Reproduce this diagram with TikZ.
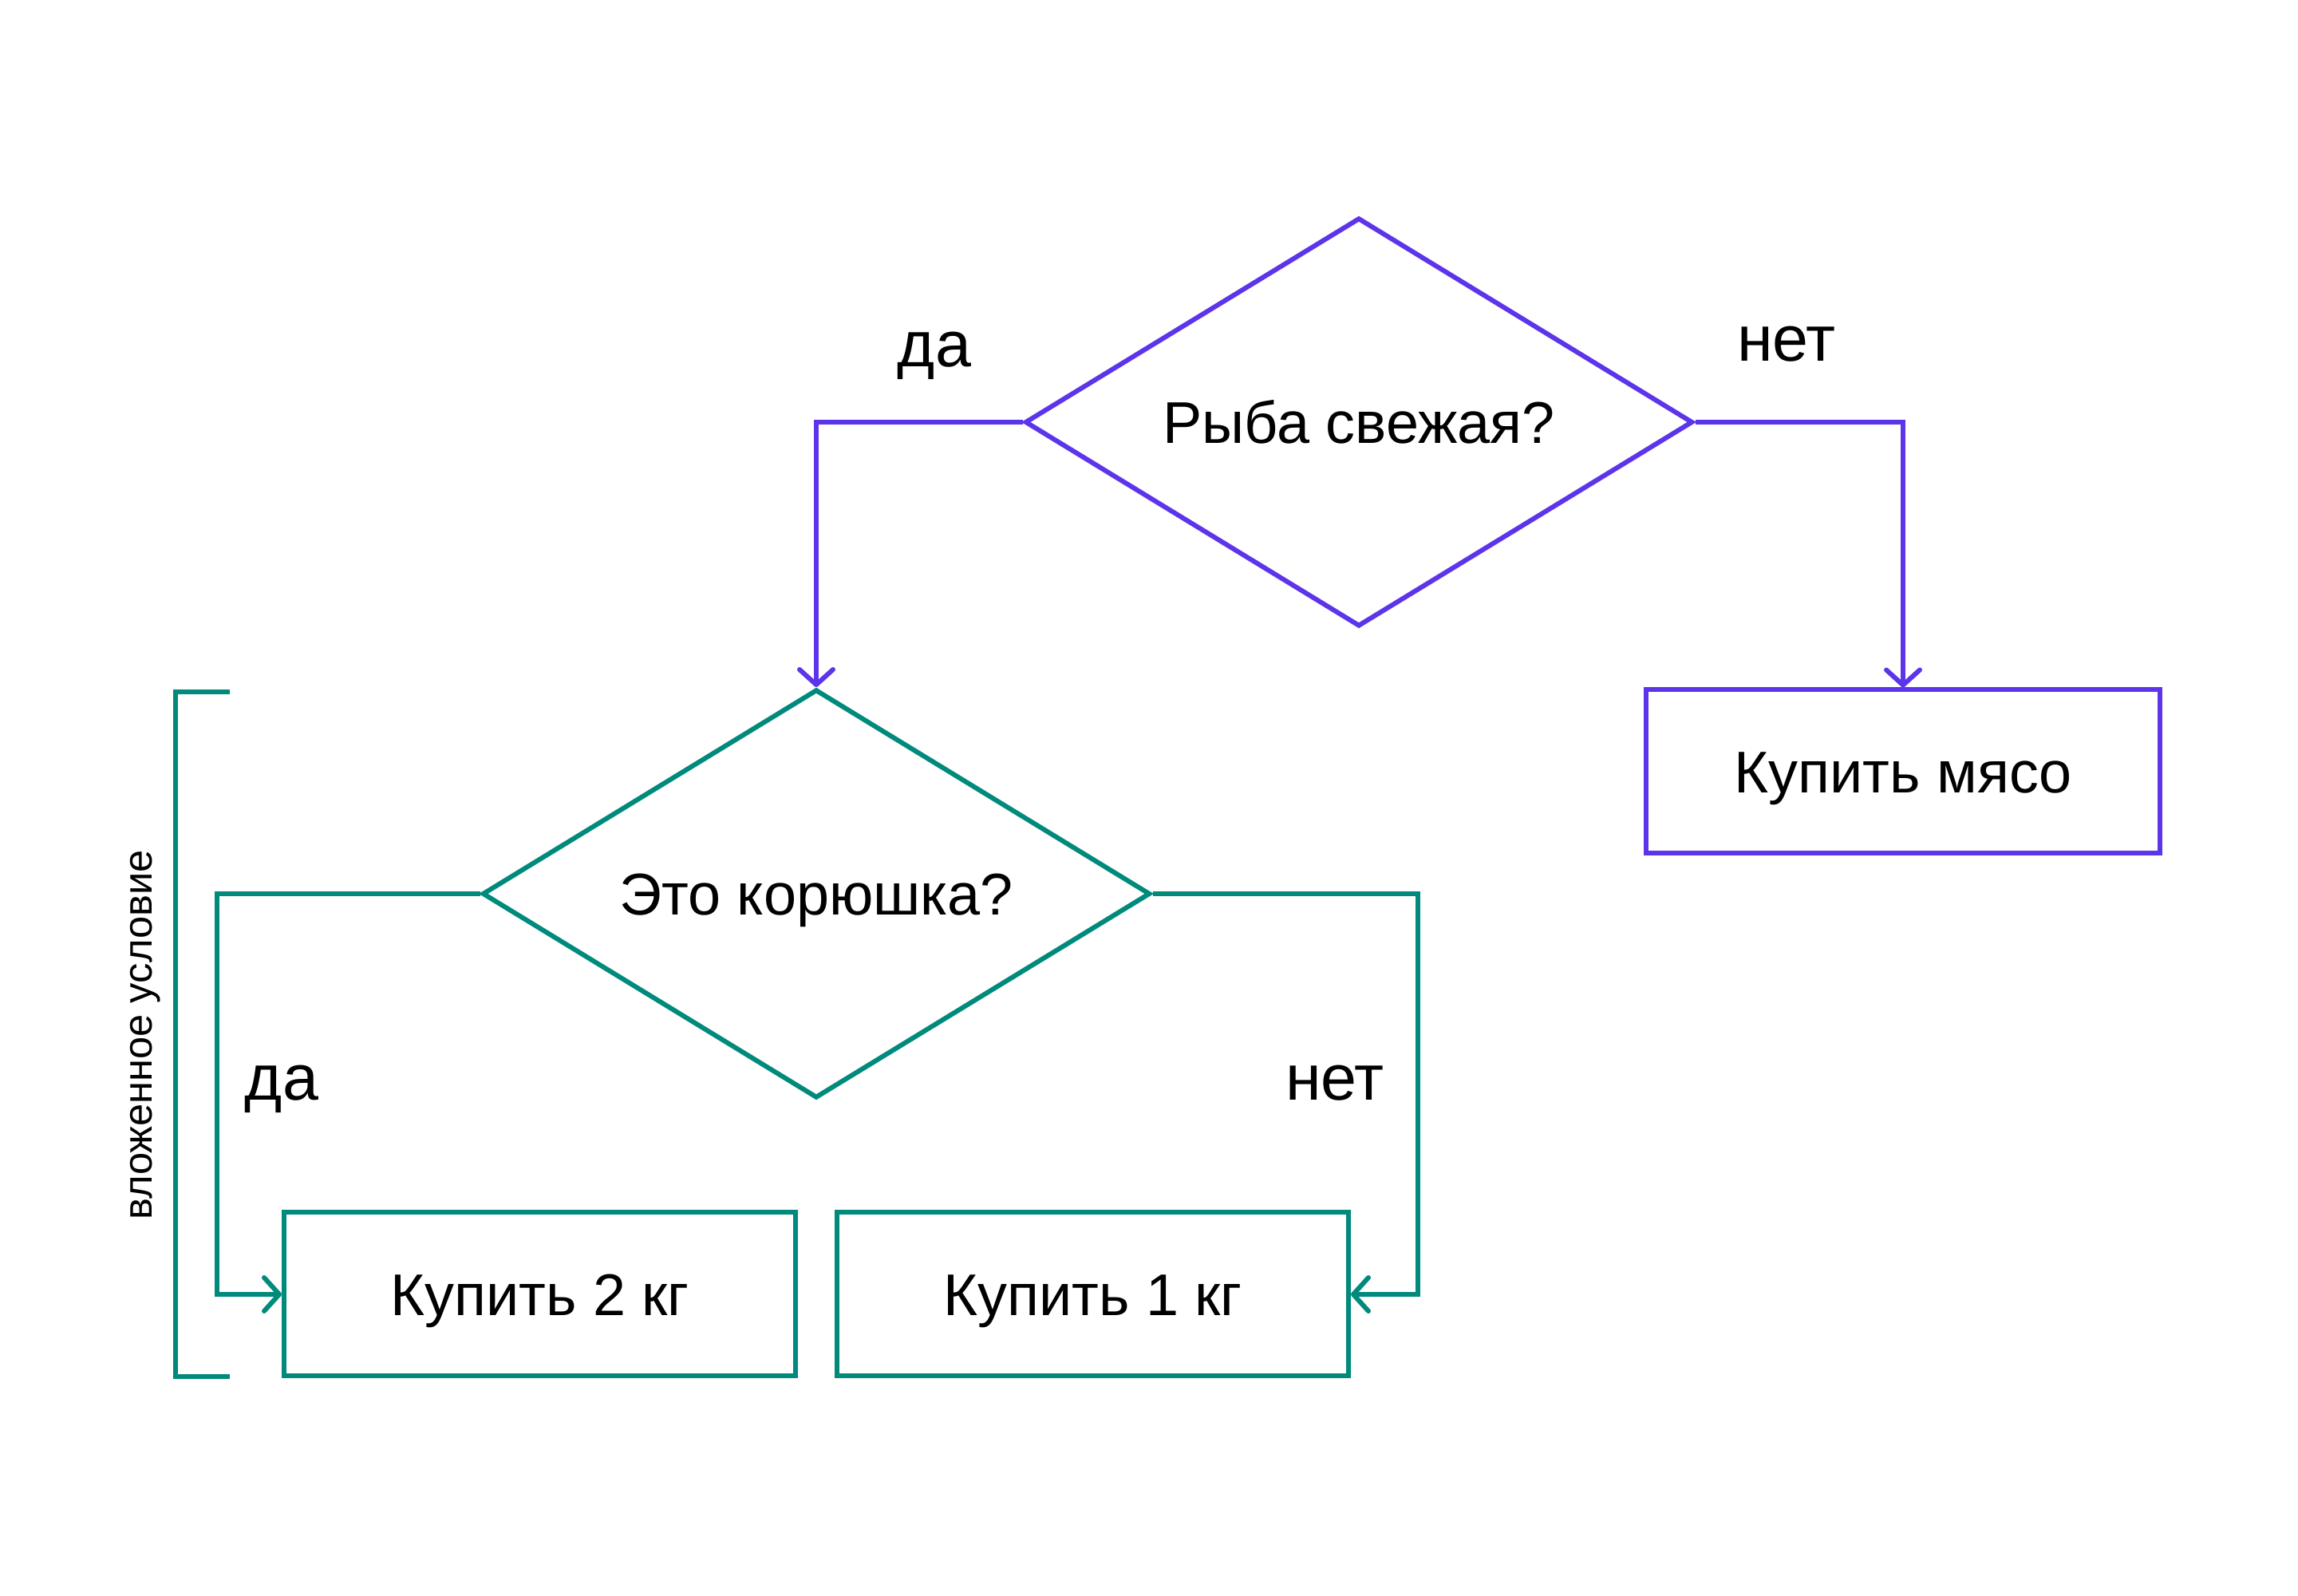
\documentclass[tikz,border=0pt]{standalone}
\usepackage{fontspec}
\setmainfont{Liberation Sans}
\usetikzlibrary{shapes.geometric,arrows.meta}
\definecolor{violet}{HTML}{5C35EB}
\definecolor{teal}{HTML}{008A7C}
\begin{document}
\begin{tikzpicture}[
    every node/.style={font=\fontsize{21}{25}\selectfont, inner sep=0pt},
    cond/.style={draw, diamond, line width=0.6mm, minimum width=8.37cm, minimum height=5.12cm, aspect=1.63, text height=15pt, text depth=0pt},
    act/.style={draw, rectangle, line width=0.6mm, minimum width=6.41cm, minimum height=2.05cm, text height=15pt, text depth=0pt},
    arr/.style={line width=0.6mm, -{Straight Barb[length=1.9mm, width=4.2mm, round]}},
    lbl/.style={anchor=base, font=\fontsize{23}{27}\selectfont},
]
    \useasboundingbox (0,0) rectangle (28.8,20);

    \node[cond, violet, text=black] (F) at (17.03,14.71) {Рыба свежая?};
    \node[cond, teal, text=black] (K) at (10.23,8.80) {Это корюшка?};
    \node[act, violet, text=black, minimum width=6.44cm] (M) at (23.85,10.33) {Купить мясо};
    \node[act, teal, text=black] (B) at (6.765,3.78) {Купить 2 кг};
    \node[act, teal, text=black] (A) at (13.695,3.78) {Купить 1 кг};

    \draw[arr, violet] (F.west) -| (K.north);
    \draw[arr, violet] (F.east) -| (M.north);
    \draw[arr, teal] (K.west) -- ++(-3.30,0) |- (B.west);
    \draw[arr, teal] (K.east) -- ++(3.32,0) |- (A.east);

    \node[lbl] (FY) at (11.71,15.40) {да};
    \node[lbl] (FN) at (22.39,15.47) {нет};
    \node[lbl] (KY) at (3.53,6.21) {да};
    \node[lbl] (KN) at (16.73,6.21) {нет};

    % bracket
    \coordinate (T) at (2.88,11.33);
    \coordinate (U) at (2.88,2.75);
    \draw[teal, line width=0.6mm] (T) -- ++(-0.68,0) -- ([xshift=-0.68cm]U) -- (U);
    \node[rotate=90, anchor=base, font=\fontsize{14.4}{17}\selectfont] (L) at (1.90,7.03) {вложенное условие};
\end{tikzpicture}
\end{document}
